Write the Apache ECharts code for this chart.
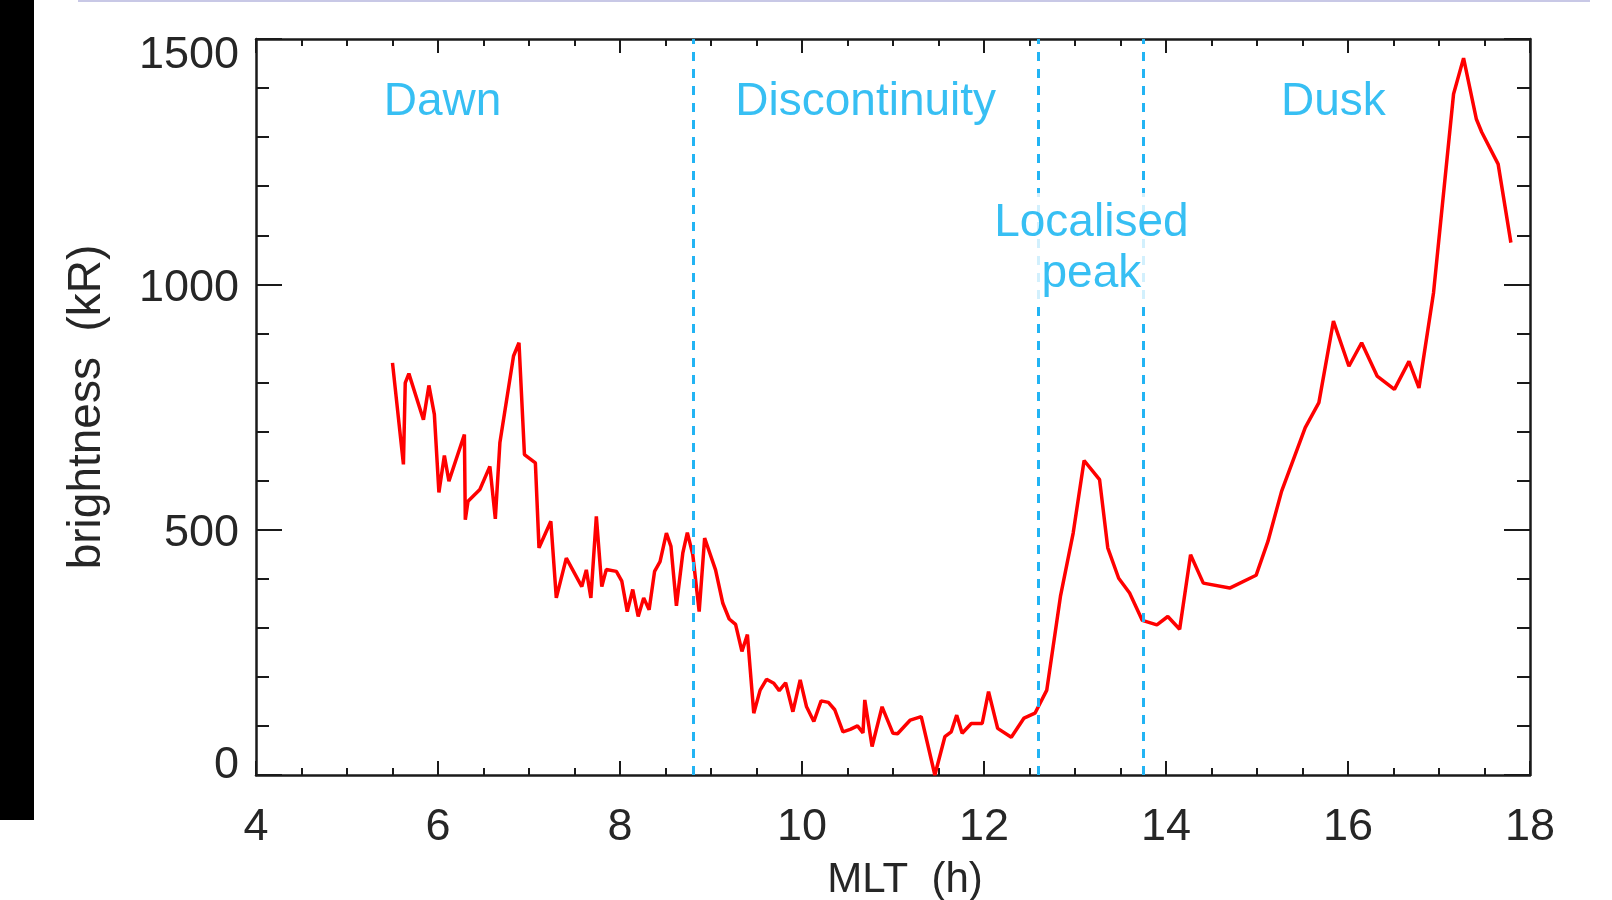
<!DOCTYPE html>
<html>
<head>
<meta charset="utf-8">
<script src="https://cdn.jsdelivr.net/npm/echarts@6/dist/echarts.min.js"></script>
<style>
    html, body { margin: 0; padding: 0; background: #fff; }
    #main { width: 1612px; height: 900px; }
</style>
</head>
<body>
<div id="main"></div>
<script>
// MLT (h) and brightness (kR)
const mlt = [
    5.50, 5.62, 5.64, 5.68, 5.84, 5.90, 5.96, 6.01, 6.07, 6.12,
    6.29, 6.30, 6.33, 6.46, 6.57, 6.63, 6.68, 6.83, 6.89, 6.95,
    7.07, 7.11, 7.24, 7.30, 7.41, 7.58, 7.63, 7.68, 7.74, 7.80,
    7.85, 7.96, 8.02, 8.08, 8.14, 8.20, 8.26, 8.32, 8.38, 8.44,
    8.51, 8.56, 8.62, 8.69, 8.74, 8.80, 8.87, 8.93, 9.05, 9.13,
    9.20, 9.27, 9.34, 9.37, 9.40, 9.47, 9.54, 9.61, 9.69, 9.75,
    9.82, 9.90, 9.98, 10.05, 10.13, 10.21, 10.29, 10.36, 10.45, 10.53,
    10.61, 10.67, 10.69, 10.77, 10.88, 11.00, 11.05, 11.19, 11.31, 11.46,
    11.57, 11.64, 11.70, 11.76, 11.86, 11.98, 12.05, 12.15, 12.30, 12.44,
    12.56, 12.69, 12.84, 12.98, 13.10, 13.27, 13.36, 13.48, 13.60, 13.74,
    13.90, 14.02, 14.15, 14.27, 14.41, 14.70, 14.99, 15.12, 15.27, 15.53,
    15.68, 15.84, 16.01, 16.15, 16.32, 16.51, 16.67, 16.78, 16.94, 17.16,
    17.27, 17.41, 17.47, 17.65, 17.79
]
const brightness = [
    840, 633, 799, 818, 724, 794, 735, 576, 651, 599,
    694, 520, 558, 582, 629, 522, 677, 854, 881, 653,
    636, 463, 517, 361, 442, 384, 418, 361, 527, 384,
    419, 415, 395, 333, 378, 323, 361, 337, 415, 435,
    493, 466, 345, 452, 494, 449, 333, 483, 418, 350,
    318, 307, 252, 269, 286, 126, 173, 195, 187, 172,
    188, 129, 194, 139, 109, 151, 148, 133, 88, 93,
    100, 86, 153, 58, 139, 85, 84, 112, 119, 0,
    78, 88, 122, 85, 105, 105, 170, 95, 77, 116,
    126, 173, 364, 493, 641, 602, 463, 401, 371, 315,
    306, 323, 297, 449, 391, 381, 407, 476, 578, 708,
    759, 925, 833, 881, 813, 786, 843, 789, 983, 1388,
    1461, 1337, 1310, 1245, 1085
]

// region boundaries (MLT) and region labels
const boundaries = [8.81, 12.60, 13.75]
const regionNames = ['Dawn', 'Discontinuity', 'Localised\npeak', 'Dusk']
const regionX = [6.05, 10.70, 13.18, 15.84]
const regionY = [1370, 1370, 1073, 1370]

const axisColor = '#1a1a1a'
const textColor = '#262626'
const blue = '#05aff0'
const font = 'Liberation Sans, Arial, Helvetica, sans-serif'

const chartDom = document.getElementById('main')
const myChart = echarts.init(chartDom, null, { renderer: 'canvas' })

function xAxisCfg (pos, showLabel) {
    return {
        type: 'value',
        position: pos,
        min: 4,
        max: 18,
        interval: 2,
        axisLine: { show: true, onZero: false, lineStyle: { color: axisColor, width: 2.5 } },
        axisTick: { show: true, inside: true, length: 14, lineStyle: { color: axisColor, width: 2 } },
        minorTick: { show: true, splitNumber: 4, length: 7, lineStyle: { color: axisColor, width: 2 } },
        splitLine: { show: false },
        minorSplitLine: { show: false },
        axisLabel: {
            show: showLabel,
            fontSize: 45,
            fontFamily: font,
            color: textColor,
            margin: 30,
            showMinLabel: true,
            showMaxLabel: true
        }
    }
}

function yAxisCfg (pos, showLabel) {
    return {
        type: 'value',
        position: pos,
        min: 0,
        max: 1500,
        interval: 500,
        axisLine: { show: true, onZero: false, lineStyle: { color: axisColor, width: 2.5 } },
        axisTick: { show: true, inside: true, length: 26, lineStyle: { color: axisColor, width: 2 } },
        minorTick: { show: true, splitNumber: 5, length: 13, lineStyle: { color: axisColor, width: 2 } },
        splitLine: { show: false },
        minorSplitLine: { show: false },
        axisLabel: {
            show: showLabel,
            fontSize: 45,
            lineHeight: 45,
            fontFamily: font,
            color: textColor,
            margin: 17,
            padding: [8, 0, 0, 0],
            showMinLabel: true,
            showMaxLabel: true,
            // the end labels sit inside the frame, like the original
            formatter: function (v) {
                if (v === 1500) return '{sp| }\n1500'
                if (v === 0) return '0\n{sp2| }'
                return String(v)
            },
            rich: {
                sp: { lineHeight: 26, fontSize: 8 },
                sp2: { lineHeight: 26, fontSize: 8 }
            }
        }
    }
}

const bottomX = xAxisCfg('bottom', true)
bottomX.name = 'MLT  (h)'
bottomX.nameLocation = 'middle'
bottomX.nameGap = 84
bottomX.nameTextStyle = { fontSize: 42, fontFamily: font, color: textColor, padding: [0, 0, 0, 24] }

const leftY = yAxisCfg('left', true)
leftY.name = 'brightness  (kR)'
leftY.nameLocation = 'middle'
leftY.nameGap = 146
leftY.nameTextStyle = { fontSize: 46, fontFamily: font, color: textColor }

const lineData = mlt.map((x, i) => [x, brightness[i]])

const regionData = regionNames.map((name, i) => {
    const item = { name, value: [regionX[i], regionY[i]] }
    if (name.indexOf('\n') >= 0) {
        item.label = { backgroundColor: '#fff', lineHeight: 51, padding: [3, 0, 6, 0] }
    }
    return item
})

const option = {
    animation: false,
    backgroundColor: '#fff',
    grid: { left: 256, right: 82, top: 39, bottom: 125, containLabel: false, outerBoundsMode: 'none' },
    xAxis: [bottomX, xAxisCfg('top', false)],
    yAxis: [leftY, yAxisCfg('right', false)],
    graphic: [
        { type: 'rect', left: 0, top: 0, shape: { width: 34, height: 820 }, style: { fill: '#000' }, silent: true },
        { type: 'rect', left: 78, top: 0, shape: { width: 1512, height: 2 }, style: { fill: '#c8c8e6' }, silent: true }
    ],
    series: [
        {
            name: 'boundaries',
            type: 'line',
            data: [],
            z: 2,
            markLine: {
                silent: true,
                symbol: ['none', 'none'],
                label: { show: false },
                lineStyle: { color: '#22b4f4', width: 3, type: [9, 8] },
                data: boundaries.map(b => ({ xAxis: b }))
            }
        },
        {
            name: 'brightness',
            type: 'line',
            data: lineData,
            z: 3,
            showSymbol: false,
            symbol: 'none',
            lineStyle: { color: '#ff0000', width: 3.5 },
            itemStyle: { color: '#ff0000' }
        },
        {
            name: 'regions',
            type: 'scatter',
            data: regionData,
            z: 5,
            symbolSize: 1,
            itemStyle: { color: 'rgba(0,0,0,0)' },
            silent: true,
            label: {
                show: true,
                position: 'inside',
                formatter: '{b}',
                fontSize: 46,
                lineHeight: 51,
                fontFamily: font,
                color: blue,
                align: 'center',
                verticalAlign: 'middle'
            }
        }
    ]
}

myChart.setOption(option)
</script>
</body>
</html>
